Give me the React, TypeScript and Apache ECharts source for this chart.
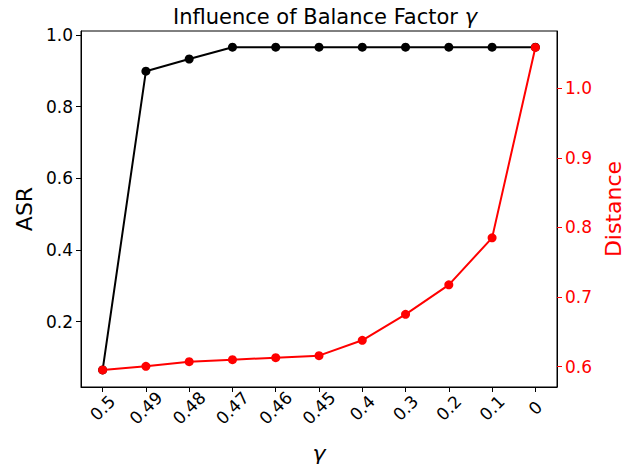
import React, { useEffect, useRef } from "react";
import * as echarts from "echarts";

const gammaLabels = ["0.5", "0.49", "0.48", "0.47", "0.46", "0.45", "0.4", "0.3", "0.2", "0.1", "0"];
const asrValues = [0.065, 0.899, 0.933, 0.966, 0.966, 0.966, 0.966, 0.966, 0.966, 0.966, 0.966];
const distanceValues = [0.5953, 0.6005, 0.6072, 0.6101, 0.6129, 0.6158, 0.6379, 0.6752, 0.7176, 0.7851, 1.0587];
const asrTicks = [0.2, 0.4, 0.6, 0.8, 1.0];
const distanceTicks = [0.6, 0.7, 0.8, 0.9, 1.0];

const FONT = "DejaVu Sans";

export default function App() {
  const ref = useRef<HTMLDivElement>(null);
  useEffect(() => {
    if (!ref.current) return;
    const chart = echarts.init(ref.current, undefined, { renderer: "svg" });
    chart.setOption({
      animation: false,
      backgroundColor: "#ffffff",
      textStyle: { fontFamily: FONT },
      title: {
        text: "Influence of Balance Factor {g|γ}",
        left: 320,
        textAlign: "center",
        top: 1,
        textStyle: {
          fontFamily: FONT,
          fontSize: 21,
          fontWeight: "normal",
          color: "#000",
          rich: { g: { fontFamily: FONT, fontSize: 21, fontStyle: "italic", color: "#000" } },
        },
      },
      grid: {
        left: 81,
        right: 74,
        top: 31,
        bottom: 77,
        containLabel: false,
        outerBoundsMode: "none",
        show: true,
        borderColor: "#000",
        borderWidth: 1,
        backgroundColor: "transparent",
      },
      xAxis: {
        type: "category",
        data: gammaLabels,
        boundaryGap: true,
        name: "γ",
        nameLocation: "middle",
        nameGap: 55,
        nameTextStyle: { fontFamily: FONT, fontSize: 22, fontStyle: "italic", color: "#000" },
        axisLine: { show: true, lineStyle: { color: "#000", width: 1 } },
        axisTick: { show: true, alignWithLabel: true, length: 5, lineStyle: { color: "#000" } },
        axisLabel: {
          interval: 0,
          rotate: 45,
          align: "center",
          verticalAlign: "middle",
          margin: 21,
          fontFamily: FONT,
          fontSize: 17,
          color: "#000",
        },
        splitLine: { show: false },
      },
      yAxis: [
        {
          type: "value",
          min: 0.0172,
          max: 1.0112,
          name: "ASR",
          nameLocation: "middle",
          nameGap: 46,
          nameRotate: 90,
          nameTextStyle: { fontFamily: FONT, fontSize: 22, color: "#000" },
          axisLine: { show: true, lineStyle: { color: "#000", width: 1 } },
          axisTick: { show: true, length: 5, customValues: asrTicks, lineStyle: { color: "#000" } },
          axisLabel: {
            customValues: asrTicks,
            formatter: (v: number) => v.toFixed(1),
            fontFamily: FONT,
            fontSize: 17,
            color: "#000",
            margin: 8,
          },
          splitLine: { show: false },
        },
        {
          type: "value",
          position: "right",
          min: 0.5708,
          max: 1.0823,
          name: "Distance",
          nameLocation: "middle",
          nameGap: 41,
          nameRotate: 90,
          nameTextStyle: { fontFamily: FONT, fontSize: 22, color: "#ff0000" },
          axisLine: { show: true, lineStyle: { color: "#000", width: 1 } },
          axisTick: { show: true, length: 5, customValues: distanceTicks, lineStyle: { color: "#ff0000" } },
          axisLabel: {
            customValues: distanceTicks,
            formatter: (v: number) => v.toFixed(1),
            fontFamily: FONT,
            fontSize: 17,
            color: "#ff0000",
            margin: 8,
          },
          splitLine: { show: false },
        },
      ],
      series: [
        {
          name: "ASR",
          type: "line",
          yAxisIndex: 0,
          data: asrValues,
          symbol: "circle",
          symbolSize: 9,
          lineStyle: { color: "#000", width: 2 },
          itemStyle: { color: "#000" },
          z: 2,
        },
        {
          name: "Distance",
          type: "line",
          yAxisIndex: 1,
          data: distanceValues,
          symbol: "circle",
          symbolSize: 9,
          lineStyle: { color: "#ff0000", width: 2 },
          itemStyle: { color: "#ff0000" },
          z: 3,
        },
      ],
    });
    return () => chart.dispose();
  }, []);
  return (
    <div
      ref={ref}
      style={{ position: "absolute", left: 0, top: 0, width: 631, height: 464 }}
    />
  );
}
